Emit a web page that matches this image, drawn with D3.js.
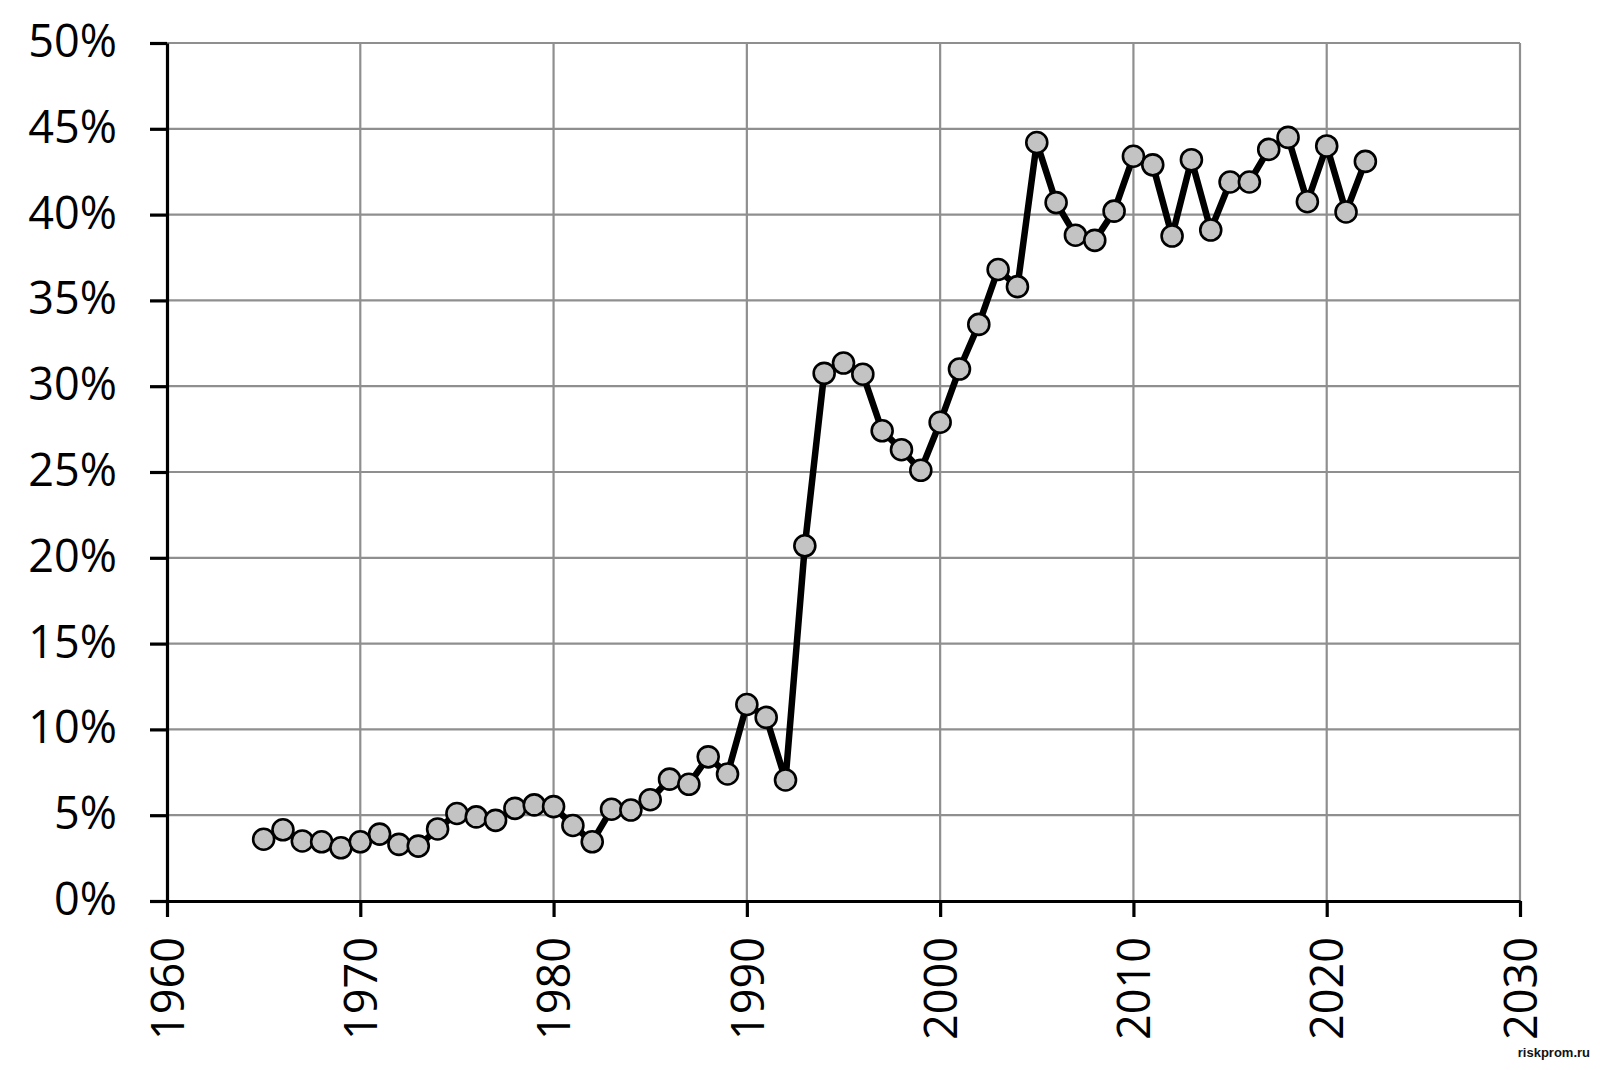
<!DOCTYPE html>
<html>
<head>
<meta charset="utf-8">
<script src="https://cdn.jsdelivr.net/npm/d3@7"></script>
<style>
  body { margin: 0; background: #fff; }
  svg { display: block; }
</style>
</head>
<body>
<div id="chart"></div>
<script>
// values (share, %)
const years = [1965, 1966, 1967, 1968, 1969, 1970, 1971, 1972, 1973, 1974,
  1975, 1976, 1977, 1978, 1979, 1980, 1981, 1982, 1983, 1984,
  1985, 1986, 1987, 1988, 1989, 1990, 1991, 1992, 1993, 1994,
  1995, 1996, 1997, 1998, 1999, 2000, 2001, 2002, 2003, 2004,
  2005, 2006, 2007, 2008, 2009, 2010, 2011, 2012, 2013, 2014,
  2015, 2016, 2017, 2018, 2019, 2020, 2021, 2022];
const shares = [3.6, 4.15, 3.5, 3.45, 3.1, 3.45, 3.9, 3.3, 3.2, 4.2,
  5.1, 4.9, 4.7, 5.4, 5.6, 5.5, 4.4, 3.45, 5.35, 5.3,
  5.9, 7.1, 6.8, 8.4, 7.4, 11.45, 10.7, 7.05, 20.7, 30.75,
  31.35, 30.7, 27.4, 26.3, 25.1, 27.9, 31.0, 33.6, 36.8, 35.8,
  44.2, 40.7, 38.8, 38.5, 40.2, 43.4, 42.9, 38.75, 43.2, 39.1,
  41.9, 41.9, 43.8, 44.5, 40.75, 44.0, 40.15, 43.1];
const yTicks = [0, 5, 10, 15, 20, 25, 30, 35, 40, 45, 50];
const xTicks = [1960, 1970, 1980, 1990, 2000, 2010, 2020, 2030];
const watermark = "riskprom.ru";

const svgWidth = 1600;
const svgHeight = 1070;

const margin = {
  top: 43,
  right: 80,
  bottom: 169,
  left: 167
};

const width = svgWidth - margin.left - margin.right;
const height = svgHeight - margin.top - margin.bottom;

const data = years.map((y, i) => ({ year: y, value: shares[i] }));

const svg = d3.select("#chart")
  .append("svg")
  .attr("width", svgWidth)
  .attr("height", svgHeight);

const chartGroup = svg.append("g")
  .attr("transform", `translate(${margin.left}, ${margin.top})`);

const xScale = d3.scaleLinear()
  .domain([1960, 2030])
  .range([0, width]);

const yScale = d3.scaleLinear()
  .domain([0, 50])
  .range([height, 0]);

// gridlines
chartGroup.append("g")
  .selectAll("line")
  .data(yTicks.filter(d => d > 0))
  .enter()
  .append("line")
  .attr("x1", 0)
  .attr("x2", width)
  .attr("y1", d => yScale(d))
  .attr("y2", d => yScale(d))
  .attr("stroke", "#8f8f8f")
  .attr("stroke-width", 2.2);

chartGroup.append("g")
  .selectAll("line")
  .data(xTicks.filter(d => d > 1960))
  .enter()
  .append("line")
  .attr("x1", d => xScale(d))
  .attr("x2", d => xScale(d))
  .attr("y1", 0)
  .attr("y2", height)
  .attr("stroke", "#8f8f8f")
  .attr("stroke-width", 2.2);

const fontFamily = "'Open Sans', 'Noto Sans', sans-serif";

// y axis
const leftAxis = d3.axisLeft(yScale)
  .tickValues(yTicks)
  .tickSize(17)
  .tickSizeOuter(0)
  .tickPadding(33)
  .tickFormat(d => d + "%");

const yAxis = chartGroup.append("g").call(leftAxis);
yAxis.select(".domain").attr("stroke", "#000").attr("stroke-width", 3.2);
yAxis.selectAll(".tick line").attr("stroke", "#000").attr("stroke-width", 3.2);
yAxis.selectAll(".tick text")
  .attr("fill", "#000")
  .style("font-family", fontFamily)
  .style("font-size", "45px")
  .attr("dy", "0.3em");

// x axis
const bottomAxis = d3.axisBottom(xScale)
  .tickValues(xTicks)
  .tickSize(16)
  .tickSizeOuter(0)
  .tickFormat(d3.format("d"));

const xAxis = chartGroup.append("g")
  .attr("transform", `translate(0, ${height})`)
  .call(bottomAxis);
xAxis.select(".domain").attr("stroke", "#000").attr("stroke-width", 3.2);
xAxis.selectAll(".tick line").attr("stroke", "#000").attr("stroke-width", 3.2);
xAxis.selectAll(".tick text")
  .attr("fill", "#000")
  .style("font-family", fontFamily)
  .style("font-size", "45px")
  .attr("transform", "rotate(-90)")
  .attr("x", -36)
  .attr("y", 0)
  .attr("dy", "0.36em")
  .style("text-anchor", "end");

// line
const line = d3.line()
  .x(d => xScale(d.year))
  .y(d => yScale(d.value));

chartGroup.append("path")
  .datum(data)
  .attr("d", line)
  .attr("fill", "none")
  .attr("stroke", "#000")
  .attr("stroke-width", 6.5)
  .attr("stroke-linejoin", "round");

// markers
chartGroup.selectAll("circle")
  .data(data)
  .enter()
  .append("circle")
  .attr("cx", d => xScale(d.year))
  .attr("cy", d => yScale(d.value))
  .attr("r", 10.5)
  .attr("fill", "#c3c3c3")
  .attr("stroke", "#000")
  .attr("stroke-width", 2.6);

// watermark
svg.append("text")
  .attr("x", 1590)
  .attr("y", 1057)
  .attr("text-anchor", "end")
  .style("font-family", "'Liberation Sans', Arial, sans-serif")
  .style("font-weight", "bold")
  .style("font-size", "13px")
  .attr("fill", "#111")
  .attr("stroke", "#fff")
  .attr("stroke-width", 0.6)
  .attr("paint-order", "stroke")
  .text(watermark);
</script>
</body>
</html>
